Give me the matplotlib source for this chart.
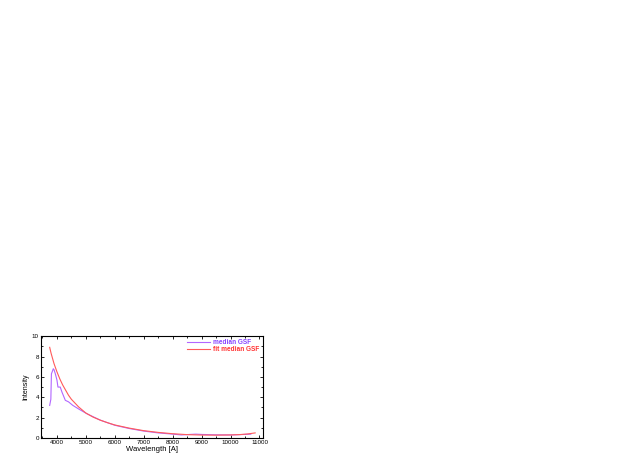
import matplotlib
matplotlib.use("Agg")
import matplotlib.pyplot as plt
from matplotlib.ticker import MultipleLocator

plt.rcParams['font.family'] = ['Liberation Sans', 'DejaVu Sans']

wl_med = [3750, 3790, 3810, 3850, 3875, 3900, 3945, 4000, 4036, 4115, 4175, 4290,
          4400, 4550, 4750, 5036, 5500, 6000, 6500, 7000, 7500, 8000, 8300, 8600,
          8800, 9000, 9500, 10000, 10500, 10700]
med = [3.2, 3.8, 6.3, 6.6, 6.8, 6.7, 6.3, 5.7, 5.0, 5.0, 4.5, 3.7,
       3.55, 3.2, 2.85, 2.38, 1.75, 1.25, 0.93, 0.68, 0.5, 0.38, 0.3, 0.35,
       0.38, 0.35, 0.31, 0.3, 0.35, 0.38]

wl_fit = [3750, 3800, 3900, 4000, 4100, 4200, 4300, 4400, 4500, 4750, 5000, 5250,
          5500, 5750, 6000, 6500, 7000, 7500, 8000, 8500, 9000, 9500, 10000, 10300,
          10600, 10850]
fit = [8.9, 8.3, 7.3, 6.5, 5.8, 5.2, 4.7, 4.2, 3.8, 3.05, 2.45, 2.05,
       1.75, 1.5, 1.28, 0.97, 0.72, 0.55, 0.42, 0.33, 0.29, 0.28, 0.3, 0.33,
       0.4, 0.5]

fig = plt.figure(figsize=(6.27, 4.63), dpi=100)
ax = fig.add_axes([0.0654, 0.054, 0.354, 0.22])
ax.plot(wl_med, med, color='#b266ff', lw=0.8, label='median GSF')
ax.plot(wl_fit, fit, color='#ff5a5a', lw=0.8, label='fit median GSF')
ax.set_xlim(3450, 11120)
ax.set_ylim(0, 10)
ax.xaxis.set_major_locator(MultipleLocator(1000))
ax.xaxis.set_minor_locator(MultipleLocator(500))
ax.yaxis.set_major_locator(MultipleLocator(2))
ax.yaxis.set_minor_locator(MultipleLocator(1))
ax.tick_params(which='both', direction='in', top=True, right=True, labelsize=4.5,
               width=0.6, pad=1.5)
ax.tick_params(which='major', length=2.5)
ax.tick_params(which='minor', length=1.5)
for s in ax.spines.values():
    s.set_linewidth(0.8)
ax.set_xlabel('Wavelength [A]', fontsize=5.5, labelpad=0.5)
ax.set_ylabel('Intensity', fontsize=5, labelpad=2)
leg = ax.legend(loc='upper right', prop={'size': 4.7, 'weight': 'bold'}, frameon=False,
                handlelength=3.6, borderaxespad=0.1, labelspacing=0.0, handletextpad=0.5)
for t, c in zip(leg.get_texts(), ['#8844ff', '#ff3333']):
    t.set_color(c)
fig.savefig('out.png', dpi=100)
